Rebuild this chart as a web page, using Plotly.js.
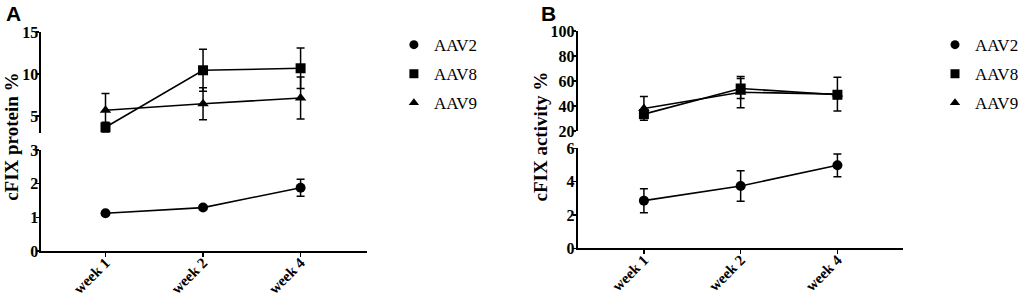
<!DOCTYPE html>
<html>
<head>
<meta charset="utf-8">
<script src="https://cdn.plot.ly/plotly-3.0.1.min.js"></script>
<style>html,body{margin:0;padding:0;background:#fff;}#chart{width:1024px;height:301px;}</style>
</head>
<body>
<div id="chart"></div>
<script>
// ---- data ----
const weeks = ["week 1", "week 2", "week 4"];
const seriesNames = ["AAV2", "AAV8", "AAV9"];

// Panel A: cFIX protein %
const proteinAAV2 = [1.12, 1.29, 1.88];
const proteinAAV2Err = [0.04, 0.05, 0.25];
const proteinAAV8 = [3.65, 10.44, 10.68];
const proteinAAV8Err = [0.6, 2.5, 2.4];
const proteinAAV9 = [5.68, 6.46, 7.14];
const proteinAAV9Err = [2.0, 1.9, 2.5];

// Panel B: cFIX activity %
const activityAAV2 = [2.86, 3.74, 4.98];
const activityAAV2Err = [0.72, 0.92, 0.68];
const activityAAV8 = [33.5, 54, 49];
const activityAAV8Err = [3, 8, 3];
const activityAAV9 = [38, 51, 49.5];
const activityAAV9Err = [9.5, 12.5, 13.5];

// tick labels
const protTopTicks = [5, 10, 15];
const protBotTicks = [0, 1, 2, 3];
const actTopTicks = [20, 40, 60, 80, 100];
const actBotTicks = [0, 2, 4, 6];

// ---- style ----
const SERIF = "Times New Roman";
const symbols = {AAV2: "circle", AAV8: "square", AAV9: "triangle-up"};
function tr(x, y, err, name, xa, ya) {
  return {
    x: x, y: y, xaxis: xa, yaxis: ya, name: name, mode: "lines+markers",
    showlegend: false, cliponaxis: false,
    line: {color: "#000", width: 1.6},
    marker: {color: "#000", size: 10, symbol: symbols[name]},
    error_y: {type: "data", array: err, visible: true, color: "#000", thickness: 1.5, width: 4}
  };
}
function legTr(name, legend) {
  return {
    x: [null], y: [null], xaxis: "x", yaxis: "y", name: name, mode: "markers",
    legend: legend, legendgroup: legend + name,
    marker: {color: "#000", size: 9, symbol: symbols[name]}
  };
}

const data = [
  tr(weeks, proteinAAV2, proteinAAV2Err, "AAV2", "x", "y"),
  tr(weeks, proteinAAV8, proteinAAV8Err, "AAV8", "x", "y2"),
  tr(weeks, proteinAAV9, proteinAAV9Err, "AAV9", "x", "y2"),
  tr(weeks, activityAAV2, activityAAV2Err, "AAV2", "x2", "y3"),
  tr(weeks, activityAAV8, activityAAV8Err, "AAV8", "x2", "y4"),
  tr(weeks, activityAAV9, activityAAV9Err, "AAV9", "x2", "y4"),
];
seriesNames.forEach(n => data.push(legTr(n, "legend")));
seriesNames.forEach(n => data.push(legTr(n, "legend2")));

function yax(domain, range, ticks, anchor) {
  return {
    domain: domain, range: range, tickvals: ticks, anchor: anchor,
    ticktext: ticks.map(t => "<b>" + t + "</b>"),
    showline: true, linewidth: 2, linecolor: "#000", ticks: "outside",
    ticklen: 3, tickwidth: 1.5, tickcolor: "#000", showgrid: false, zeroline: false,
    ticklabelstandoff: -5,
    tickfont: {family: SERIF, size: 16, color: "#000"}, fixedrange: true
  };
}
function xax(domain, range, anchor) {
  return {
    domain: domain, range: range, type: "category", anchor: anchor,
    tickvals: weeks, ticktext: weeks.map(w => "<b>" + w + "</b>"),
    showline: true, linewidth: 2, linecolor: "#000", ticks: "outside",
    ticklen: 4, tickwidth: 1.5, tickcolor: "#000", showgrid: false, zeroline: false,
    tickangle: -45, ticklabelstandoff: -9,
    tickfont: {family: SERIF, size: 15, color: "#000"}
  };
}
const legendStyle = {
  font: {family: SERIF, size: 17, color: "#000"},
  bgcolor: "rgba(0,0,0,0)", traceorder: "grouped", tracegroupgap: 4,
  xanchor: "left", yanchor: "top", itemclick: false
};

const layout = {
  width: 1024, height: 301,
  margin: {l: 0, r: 0, t: 0, b: 0},
  font: {family: SERIF, color: "#000"},
  paper_bgcolor: "#fff", plot_bgcolor: "#fff",
  showlegend: true,
  xaxis: xax([0.041, 0.363], [-0.657, 2.677], "y"),
  xaxis2: xax([0.572, 0.8936], [-0.684, 2.673], "y3"),
  yaxis: yax([0.166, 0.5017], [0, 3], protBotTicks, "x"),
  yaxis2: yax([0.559, 0.8937], [3, 15], protTopTicks, "x"),
  yaxis3: yax([0.175, 0.5073], [0, 6], actBotTicks, "x2"),
  yaxis4: yax([0.5648, 0.897], [20, 100], actTopTicks, "x2"),
  legend: Object.assign({x: 0.39, y: 0.91}, legendStyle),
  legend2: Object.assign({x: 0.926, y: 0.91}, legendStyle),
  annotations: [
    {text: "<b>A</b>", xref: "paper", yref: "paper", x: 0.004, y: 1.0, xanchor: "left", yanchor: "top",
     showarrow: false, font: {family: "Liberation Sans", size: 21, color: "#000"}},
    {text: "<b>B</b>", xref: "paper", yref: "paper", x: 0.534, y: 1.0, xanchor: "left", yanchor: "top",
     showarrow: false, font: {family: "Liberation Sans", size: 21, color: "#000"}},
    {text: "<b>cFIX protein %</b>", xref: "paper", yref: "paper", x: 11/1024, y: 1 - 137/301,
     xanchor: "center", yanchor: "middle",
     textangle: -90, showarrow: false, font: {family: SERIF, size: 19, color: "#000"}},
    {text: "<b>cFIX activity %</b>", xref: "paper", yref: "paper", x: 547/1024, y: 1 - 137/301,
     xanchor: "center", yanchor: "middle",
     textangle: -90, showarrow: false, font: {family: SERIF, size: 19, color: "#000"}}
  ]
};

Plotly.newPlot("chart", data, layout, {staticPlot: true, displayModeBar: false});
</script>
</body>
</html>
